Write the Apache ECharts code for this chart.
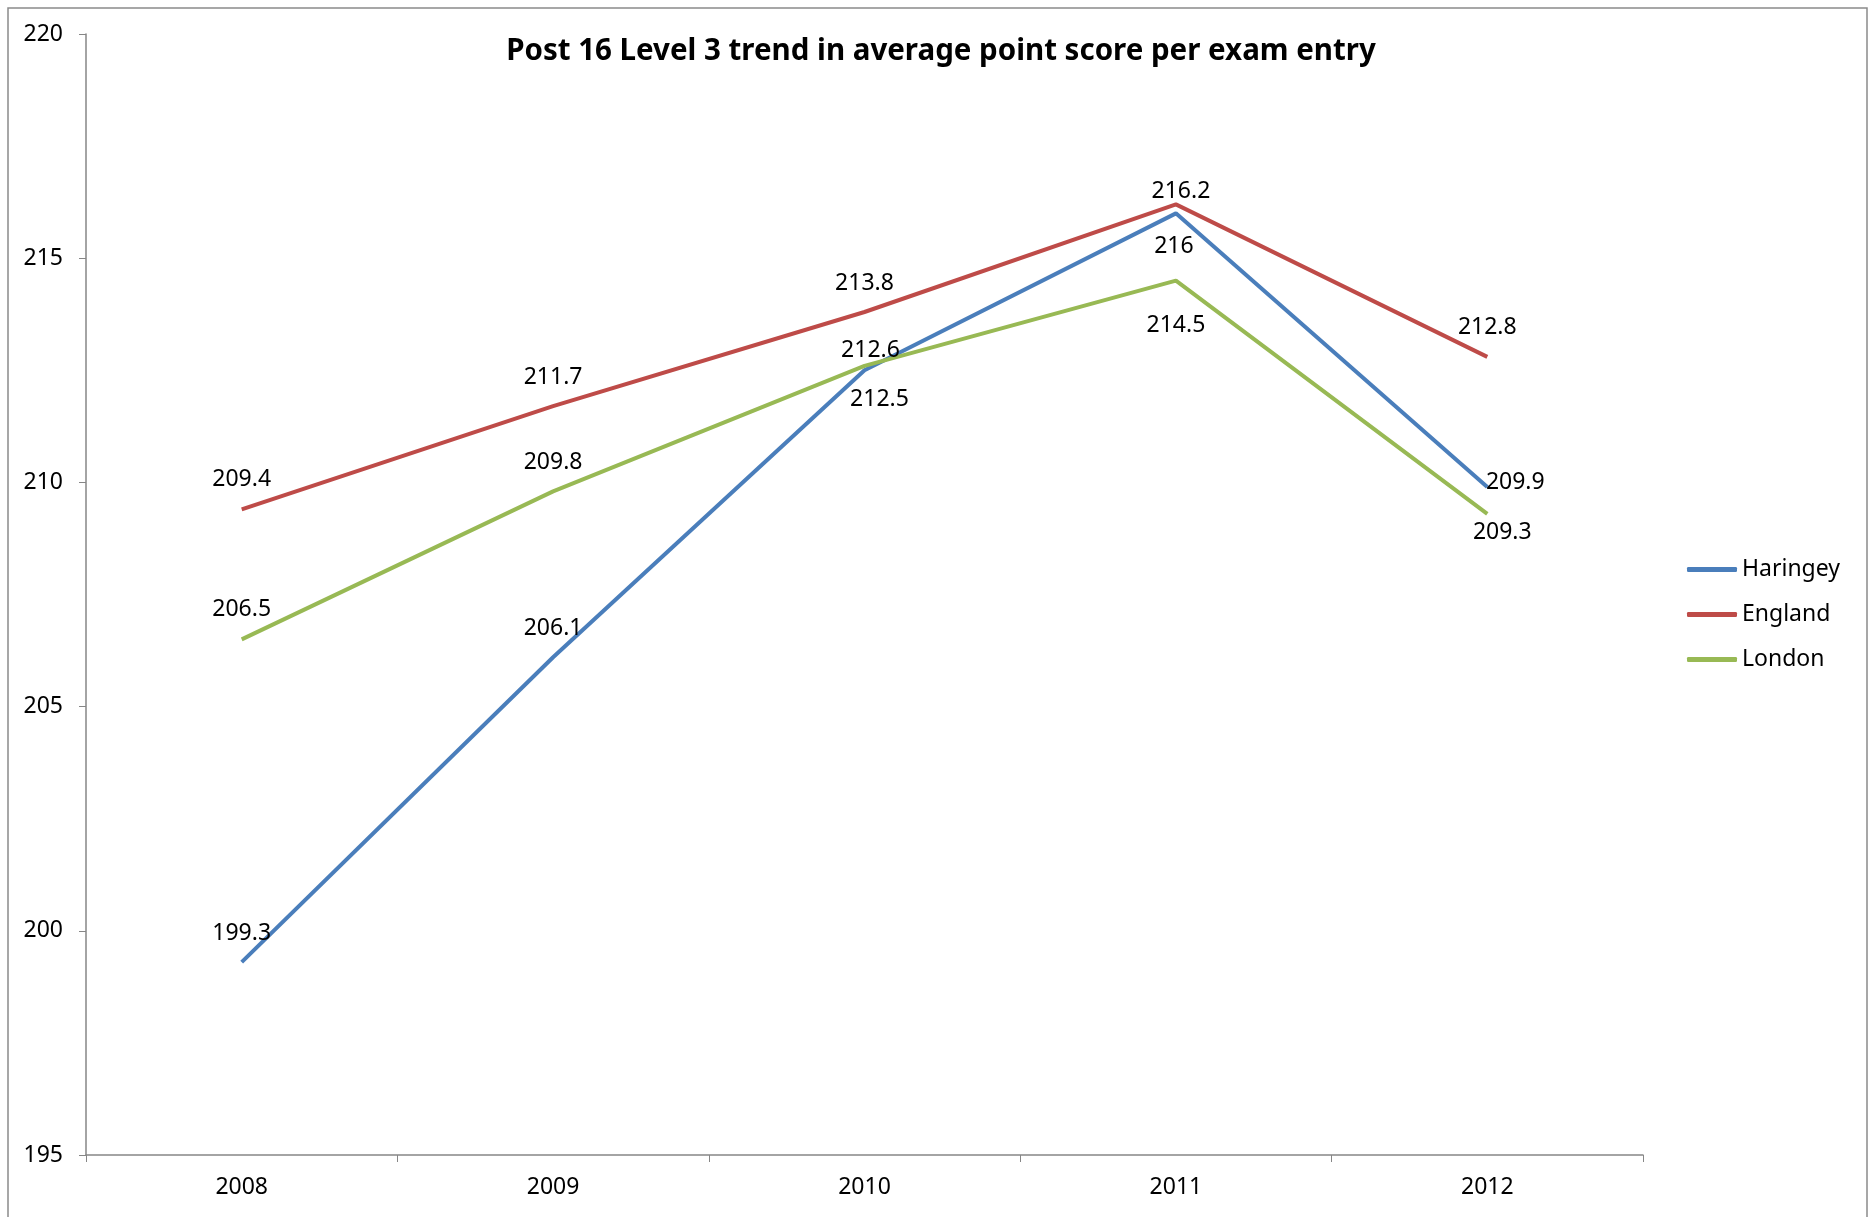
<!DOCTYPE html>
<html>
<head>
<meta charset="utf-8">
<script src="https://cdn.jsdelivr.net/npm/echarts@6/dist/echarts.min.js"></script>
<style>
  html, body { margin: 0; padding: 0; background: #fff; }
  #main { width: 1870px; height: 1217px; }
</style>
</head>
<body>
<div id="main"></div>
<script>
// data
var years = ["2008", "2009", "2010", "2011", "2012"];
var haringey = [199.3, 206.1, 212.5, 216, 209.9];
var england = [209.4, 211.7, 213.8, 216.2, 212.8];
var london = [206.5, 209.8, 212.6, 214.5, 209.3];

// where each value label sits relative to its point [dx, dy]
var haringeyLabelOff = [[0, -29], [0, -29], [15, 29], [-2, 33], [28, -4]];
var englandLabelOff = [[0, -30], [0, -29], [0, -29], [5, -13], [0, -29]];
var londonLabelOff = [[0, -30], [0, -29], [6, -15], [0, 45], [15, 19]];

var font = "'Noto Sans', 'Open Sans', sans-serif";

function withLabels(values, offs) {
  var arr = [];
  for (var i = 0; i < values.length; i++) {
    arr.push({ value: values[i], label: { offset: offs[i] } });
  }
  return arr;
}

function lineSeries(name, color, values, offs) {
  return {
    name: name,
    type: "line",
    data: withLabels(values, offs),
    symbol: "circle",
    symbolSize: 0,
    showSymbol: true,
    lineStyle: { color: color, width: 4 },
    itemStyle: { color: color },
    label: {
      show: true,
      position: "inside",
      color: "#000",
      fontFamily: font,
      fontSize: 23
    },
    emphasis: { disabled: true }
  };
}

var chart = echarts.init(document.getElementById("main"));
chart.setOption({
  animation: false,
  backgroundColor: "#fff",
  title: {
    text: "Post 16 Level 3 trend in average point score per exam entry",
    left: 936,
    top: 32,
    textAlign: "center",
    textStyle: { fontFamily: font, fontWeight: "bold", fontSize: 29.5, color: "#000" }
  },
  graphic: [{
    type: "rect",
    shape: { x: 8, y: 8, width: 1859, height: 1230 },
    style: { fill: "none", stroke: "#8a8a8a", lineWidth: 1.5 },
    silent: true
  }],
  legend: {
    orient: "vertical",
    left: 1682,
    top: 553,
    itemWidth: 50,
    itemHeight: 5,
    itemGap: 22,
    icon: "roundRect",
    textStyle: { fontFamily: font, fontSize: 23, color: "#000" },
    data: ["Haringey", "England", "London"]
  },
  grid: { left: 86, right: 227, top: 34, bottom: 62, containLabel: false },
  xAxis: {
    type: "category",
    data: years,
    boundaryGap: true,
    axisLine: { lineStyle: { color: "#868686", width: 1.5 } },
    axisTick: { show: true, length: 7, lineStyle: { color: "#868686" } },
    axisLabel: { color: "#000", fontFamily: font, fontSize: 23, margin: 21 }
  },
  yAxis: {
    type: "value",
    min: 195,
    max: 220,
    interval: 5,
    splitLine: { show: false },
    axisLine: { show: true, lineStyle: { color: "#868686", width: 1.5 } },
    axisTick: { show: true, length: 7, lineStyle: { color: "#868686" } },
    axisLabel: { color: "#000", fontFamily: font, fontSize: 23, margin: 23 }
  },
  series: [
    lineSeries("Haringey", "#4a7ebb", haringey, haringeyLabelOff),
    lineSeries("England", "#be4b48", england, englandLabelOff),
    lineSeries("London", "#98b954", london, londonLabelOff)
  ]
});
</script>
</body>
</html>
